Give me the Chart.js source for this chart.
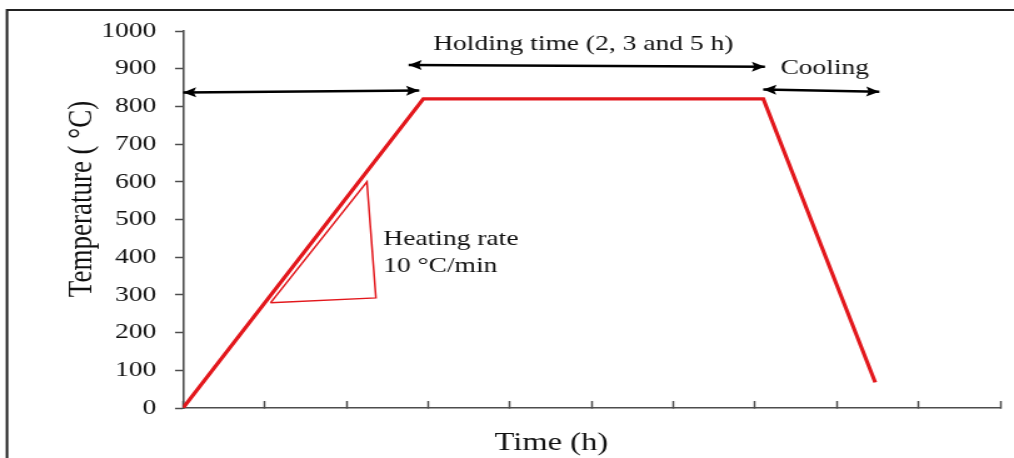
<!DOCTYPE html>
<html>
<head>
<meta charset="utf-8">
<script src="https://cdn.jsdelivr.net/npm/chart.js@4.4.1/dist/chart.umd.min.js"></script>
<style>
  html, body { margin: 0; padding: 0; background: #fff; overflow: hidden; }
</style>
</head>
<body>
<!-- the figure is stretched sideways, like the scanned original -->
<canvas id="chart" width="811" height="458" style="display:block;width:1014px;height:458px"></canvas>
<script>
(function () {
    "use strict";

    // heat treatment profile (time in h, temperature in °C)
    const profileTime = [0, 2.94, 7.10, 8.47];
    const profileTemp = [0, 820, 820, 68];

    // small "heating rate" triangle
    const rateTime = [1.07, 2.25, 2.36, 1.07];
    const rateTemp = [279, 600, 292, 279];

    // double arrows: heating, holding, cooling
    const arrowStartTime = [0, 2.76, 7.10];
    const arrowStartTemp = [837, 910, 845];
    const arrowEndTime = [2.89, 7.12, 8.52];
    const arrowEndTemp = [842, 905, 839];

    // notes
    const noteText = ["Holding time (2, 3 and 5 h)", "Cooling", "Heating rate", "10 °C/min"];
    const noteTime = [3.06, 7.31, 2.45, 2.45];
    const noteTemp = [950, 886, 432, 361];

    const timeTicks = [0, 1, 2, 3, 4, 5, 6, 7, 8, 9, 10];
    const tempTicks = [0, 100, 200, 300, 400, 500, 600, 700, 800, 900, 1000];

    const RED = "#e3171c";
    const INK = "#111";
    const AXIS = "#4d4d4d";
    const SERIF = '"Liberation Serif", "Times New Roman", serif';

    const toPoints = (xs, ys) => xs.map((x, i) => ({ x: x, y: ys[i] }));

    const datasets = [
        {
            data: toPoints(profileTime, profileTemp),
            borderColor: RED,
            borderWidth: 3.2,
            borderJoinStyle: "miter",
        },
        {
            data: toPoints(rateTime, rateTemp),
            borderColor: RED,
            borderWidth: 1.5,
            borderJoinStyle: "miter",
        },
    ];

    arrowStartTime.forEach((t, i) => {
        datasets.push({
            data: [
                { x: t, y: arrowStartTemp[i] },
                { x: arrowEndTime[i], y: arrowEndTemp[i] },
            ],
            borderColor: "#000",
            borderWidth: 2.4,
            isArrow: true,
        });
    });

    datasets.forEach(ds => {
        ds.pointRadius = 0;
        ds.pointHoverRadius = 0;
        ds.tension = 0;
        ds.fill = false;
    });

    // frame, arrow heads, notes and axis titles
    const decorations = {
        id: "decorations",
        beforeDraw(chart) {
            const ctx = chart.ctx;
            ctx.save();
            ctx.fillStyle = "#fff";
            ctx.fillRect(0, 0, chart.width, chart.height);
            ctx.strokeStyle = "#222";
            ctx.lineWidth = 2;
            ctx.strokeRect(5.6, 10, chart.width + 20, chart.height + 20);
            ctx.restore();
        },
        afterDatasetsDraw(chart) {
            const ctx = chart.ctx;
            const xs = chart.scales.x;
            const ys = chart.scales.y;

            const head = (tip, from) => {
                const a = Math.atan2(tip.y - from.y, tip.x - from.x);
                const len = 10.5, half = 5;
                ctx.save();
                ctx.translate(tip.x, tip.y);
                ctx.rotate(a);
                ctx.beginPath();
                ctx.moveTo(0, 0);
                ctx.lineTo(-len, -half);
                ctx.lineTo(-len * 0.8, 0);
                ctx.lineTo(-len, half);
                ctx.closePath();
                ctx.fillStyle = "#000";
                ctx.fill();
                ctx.restore();
            };

            chart.data.datasets.forEach((ds, i) => {
                if (!ds.isArrow) return;
                const pts = chart.getDatasetMeta(i).data;
                const a = pts[0], b = pts[pts.length - 1];
                head(a, b);
                head(b, a);
            });

            ctx.save();
            ctx.fillStyle = INK;
            ctx.font = "22px " + SERIF;
            ctx.textAlign = "left";
            ctx.textBaseline = "alphabetic";
            noteText.forEach((txt, i) => {
                ctx.fillText(txt, xs.getPixelForValue(noteTime[i]), ys.getPixelForValue(noteTemp[i]));
            });

            // axis titles
            ctx.font = "26px " + SERIF;
            ctx.textAlign = "center";
            ctx.fillText("Time (h)", 441, 450);

            ctx.translate(65.6, 199);
            ctx.rotate(-Math.PI / 2);
            ctx.font = "27px " + SERIF;
            ctx.textBaseline = "middle";
            ctx.fillText("Temperature ( °C)", 0, 0);
            ctx.restore();
        },
    };

    new Chart(document.getElementById("chart").getContext("2d"), {
        type: "line",
        data: { datasets: datasets },
        options: {
            responsive: false,
            devicePixelRatio: 1,
            animation: false,
            events: [],
            layout: { padding: { top: 31, right: 11, bottom: 0, left: 0 } },
            plugins: {
                legend: { display: false },
                tooltip: { enabled: false },
            },
            scales: {
                x: {
                    type: "linear",
                    min: timeTicks[0],
                    max: timeTicks[timeTicks.length - 1],
                    afterBuildTicks: scale => {
                        scale.ticks = timeTicks.map(v => ({ value: v }));
                    },
                    afterFit: scale => { scale.height = 50; },
                    ticks: { display: false },
                    grid: {
                        drawOnChartArea: false,
                        tickLength: -7,
                        tickWidth: 1.5,
                        tickColor: AXIS,
                    },
                    border: { display: true, color: AXIS, width: 1.6 },
                },
                y: {
                    min: tempTicks[0],
                    max: tempTicks[tempTicks.length - 1],
                    afterBuildTicks: scale => {
                        scale.ticks = tempTicks.map(v => ({ value: v }));
                    },
                    afterFit: scale => { scale.width = 146.4; },
                    ticks: {
                        color: INK,
                        padding: 15,
                        font: { family: SERIF, size: 22 },
                        callback: v => String(v),
                    },
                    grid: {
                        drawOnChartArea: false,
                        tickLength: 6.4,
                        tickWidth: 1.5,
                        tickColor: AXIS,
                    },
                    border: { display: true, color: AXIS, width: 1.6 },
                },
            },
        },
        plugins: [decorations],
    });
})();
</script>
</body>
</html>
